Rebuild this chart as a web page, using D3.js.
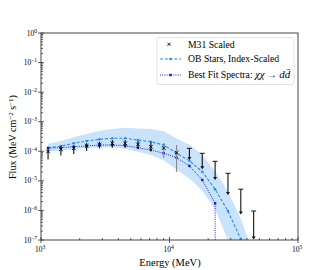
<!DOCTYPE html>
<html>
<head>
<meta charset="utf-8">
<script src="https://cdn.jsdelivr.net/npm/d3@7"></script>
<style>
  body { margin: 0; background: #fff; }
  svg text { font-family: "Liberation Serif", "DejaVu Serif", serif; fill: #000; }
</style>
</head>
<body>
<script>
// energies of the bins (MeV)
var energy = [1135, 1429, 1799, 2265, 2851, 3589, 4518, 5688, 7161, 9015,
  11349, 14288, 17987, 22645, 28508, 35889, 45182];

// OB stars, index scaled, with its band
var obFlux = [1.32e-4, 1.51e-4, 1.86e-4, 2.23e-4, 2.54e-4, 2.75e-4, 2.75e-4, 2.40e-4,
  2.11e-4, 1.63e-4, 8.6e-5, 4.8e-5, 2.04e-5, 5.2e-6, 9.5e-7, 1.07e-7];
var bandHigh = [1.79e-4, 2.22e-4, 2.99e-4, 3.89e-4, 4.83e-4, 5.69e-4, 6.19e-4, 5.90e-4,
  5.64e-4, 4.74e-4, 2.71e-4, 1.66e-4, 7.7e-5, 2.12e-5, 4.3e-6, 5.2e-7, 3.2e-8];
var bandLow = [9.8e-5, 1.03e-4, 1.16e-4, 1.28e-4, 1.34e-4, 1.33e-4, 1.22e-4, 9.6e-5,
  7.5e-5, 5.0e-5, 2.4e-5, 1.2e-5, 4.6e-6, 1.1e-6, 1.0e-7, 2.2e-8, 1e-9];

// best fit dark matter spectrum, drops to zero at the cutoff
var dmFlux = [1.29e-4, 1.32e-4, 1.43e-4, 1.51e-4, 1.63e-4, 1.63e-4, 1.55e-4, 1.32e-4,
  1.10e-4, 8.6e-5, 6.1e-5, 3.2e-5, 1.07e-5, 1.74e-6];
var dmCutoff = 22700;

// M31 scaled points (first 11 bins) and upper limits (last 6 bins)
var m31Flux = [9.84e-5, 1.17e-4, 1.26e-4, 1.51e-4, 1.67e-4, 1.86e-4, 1.86e-4, 1.72e-4,
  1.43e-4, 1.29e-4, 8.95e-5];
var m31Low = [5.27e-5, 7.2e-5, 8.1e-5, 1.02e-4, 1.24e-4, 1.32e-4, 1.32e-4, 1.24e-4,
  1.02e-4, 5.93e-5, 2.0e-5];
var m31High = [1.34e-4, 1.45e-4, 1.57e-4, 1.91e-4, 2.11e-4, 2.41e-4, 2.41e-4, 2.23e-4,
  2.01e-4, 1.91e-4, 1.63e-4];
var ulTop = [1.26e-4, 8.55e-5, 4.58e-5, 1.80e-5, 5.22e-6, 9.55e-7];
var ulTip = [5.07e-5, 2.46e-5, 1.07e-5, 3.32e-6, 7.28e-7, 1.04e-7];

var xTicks = [3, 4, 5];
var yTicks = [0, -1, -2, -3, -4, -5, -6, -7];

var W = 332, H = 270;
var L = 41, R = 298, T = 33, B = 240;

var svg = d3.select('body').append('svg').attr('width', W).attr('height', H)
  .attr('font-family', '"Liberation Serif", "DejaVu Serif", serif');

var x = d3.scaleLog().domain([1e3, 1e5]).range([L, R]);
var y = d3.scaleLog().domain([1e-7, 1]).range([B, T]);

svg.append('clipPath').attr('id', 'clip')
  .append('rect').attr('x', L).attr('y', T).attr('width', R - L).attr('height', B - T);

var plot = svg.append('g').attr('clip-path', 'url(#clip)');

function yc(v) { return y(Math.max(v, 1e-9)); }

// band
var band = energy.map(function (e, i) { return { e: e, lo: bandLow[i], hi: bandHigh[i] }; });
plot.append('path')
  .datum(band)
  .attr('fill', '#c9e3fb')
  .attr('d', d3.area()
    .x(function (d) { return x(d.e); })
    .y0(function (d) { return yc(d.lo); })
    .y1(function (d) { return yc(d.hi); }));

// OB line
var ob = obFlux.map(function (v, i) { return { e: energy[i], f: v }; });
plot.append('path')
  .datum(ob)
  .attr('fill', 'none')
  .attr('stroke', '#2b8cf0')
  .attr('stroke-width', 1.1)
  .attr('stroke-dasharray', '3,1.8')
  .attr('d', d3.line().x(function (d) { return x(d.e); }).y(function (d) { return yc(d.f); }));
plot.selectAll('.obdot').data(ob).enter().append('circle')
  .attr('cx', function (d) { return x(d.e); })
  .attr('cy', function (d) { return yc(d.f); })
  .attr('r', 1.3)
  .attr('fill', '#2b8cf0');

// DM line
var dm = dmFlux.map(function (v, i) { return { e: energy[i], f: v }; });
var dmLine = dm.concat([{ e: dmCutoff, f: 1e-9 }]);
plot.append('path')
  .datum(dmLine)
  .attr('fill', 'none')
  .attr('stroke', '#2323d8')
  .attr('stroke-width', 1)
  .attr('stroke-dasharray', '1,1.2')
  .attr('d', d3.line().x(function (d) { return x(d.e); }).y(function (d) { return yc(d.f); }));
plot.selectAll('.dmdot').data(dm).enter().append('rect')
  .attr('x', function (d) { return x(d.e) - 1.2; })
  .attr('y', function (d) { return yc(d.f) - 1.2; })
  .attr('width', 2.4).attr('height', 2.4)
  .attr('fill', '#1a1ac8');

// M31 error bars and markers
var pts = m31Flux.map(function (v, i) { return { e: energy[i], f: v, lo: m31Low[i], hi: m31High[i], i: i }; });
plot.selectAll('.err').data(pts).enter().append('line')
  .attr('x1', function (d) { return x(d.e); })
  .attr('x2', function (d) { return x(d.e); })
  .attr('y1', function (d) { return y(d.lo); })
  .attr('y2', function (d) { return y(d.hi); })
  .attr('stroke', function (d) { return d.i >= 9 ? '#888' : '#111'; })
  .attr('stroke-width', 1.1);
plot.selectAll('.xm').data(pts).enter().append('path')
  .attr('d', function (d) {
    var cx = x(d.e), cy = y(d.f), s = 1.8;
    return 'M' + (cx - s) + ',' + (cy - s) + 'L' + (cx + s) + ',' + (cy + s) +
      'M' + (cx - s) + ',' + (cy + s) + 'L' + (cx + s) + ',' + (cy - s);
  })
  .attr('stroke', '#000').attr('stroke-width', 1);

// upper limits
var uls = ulTop.map(function (v, i) { return { e: energy[i + 11], top: v, tip: ulTip[i] }; });
var ul = plot.selectAll('.ul').data(uls).enter().append('g');
ul.append('line')
  .attr('x1', function (d) { return x(d.e); })
  .attr('x2', function (d) { return x(d.e); })
  .attr('y1', function (d) { return y(d.top); })
  .attr('y2', function (d) { return y(d.tip) - 2; })
  .attr('stroke', '#111').attr('stroke-width', 1.1);
ul.append('line')
  .attr('x1', function (d) { return x(d.e) - 2.5; })
  .attr('x2', function (d) { return x(d.e) + 2.5; })
  .attr('y1', function (d) { return y(d.top); })
  .attr('y2', function (d) { return y(d.top); })
  .attr('stroke', '#111').attr('stroke-width', 1);
ul.append('path')
  .attr('d', function (d) {
    var cx = x(d.e), ty = y(d.tip);
    return 'M' + (cx - 2) + ',' + (ty - 3) + 'L' + (cx + 2) + ',' + (ty - 3) + 'L' + cx + ',' + ty + 'Z';
  })
  .attr('fill', '#111');

// frame
svg.append('rect').attr('x', L).attr('y', T).attr('width', R - L).attr('height', B - T)
  .attr('fill', 'none').attr('stroke', '#333').attr('stroke-width', 0.9);

// ticks
var xMinor = [], yMinor = [];
xTicks.slice(0, -1).forEach(function (p) {
  for (var m = 2; m < 10; m++) xMinor.push(m * Math.pow(10, p));
});
yTicks.slice(0, -1).forEach(function (p) {
  for (var m = 2; m < 10; m++) yMinor.push(m * Math.pow(10, p - 1));
});
var tk = svg.append('g').attr('stroke', '#333').attr('stroke-width', 0.8);
xTicks.forEach(function (p) {
  var px = x(Math.pow(10, p));
  tk.append('line').attr('x1', px).attr('x2', px).attr('y1', B - 3).attr('y2', B + 3);
});
xMinor.forEach(function (v) {
  var px = x(v);
  tk.append('line').attr('x1', px).attr('x2', px).attr('y1', B - 2).attr('y2', B);
});
yTicks.forEach(function (p) {
  var py = y(Math.pow(10, p));
  tk.append('line').attr('x1', L - 3).attr('x2', L + 3).attr('y1', py).attr('y2', py);
});
yMinor.forEach(function (v) {
  var py = y(v);
  tk.append('line').attr('x1', L).attr('x2', L + 2).attr('y1', py).attr('y2', py);
});

// tick labels
xTicks.forEach(function (p) {
  var t = svg.append('text').attr('x', x(Math.pow(10, p)) - 1).attr('y', 252)
    .attr('text-anchor', 'middle').attr('font-size', 7.5);
  t.append('tspan').text('10');
  t.append('tspan').attr('dy', -3).attr('font-size', 5.5).text(p);
});
yTicks.forEach(function (p) {
  var t = svg.append('text').attr('x', 37).attr('y', y(Math.pow(10, p)) + 2.5)
    .attr('text-anchor', 'end').attr('font-size', 7.5);
  t.append('tspan').text('10');
  t.append('tspan').attr('dy', -3).attr('font-size', 5.5).text(p === 0 ? '0' : '\u2212' + (-p));
});

// axis titles
svg.append('text').attr('x', 170).attr('y', 266).attr('text-anchor', 'middle')
  .attr('font-size', 10.5).text('Energy (MeV)');
var yt = svg.append('text').attr('transform', 'translate(16,137) rotate(-90)')
  .attr('text-anchor', 'middle').attr('font-size', 10);
yt.append('tspan').text('Flux (MeV cm');
yt.append('tspan').attr('dy', -3.5).attr('font-size', 7).text('\u22122');
yt.append('tspan').attr('dy', 3.5).text(' s');
yt.append('tspan').attr('dy', -3.5).attr('font-size', 7).text('\u22121');
yt.append('tspan').attr('dy', 3.5).text(')');

// legend
var lg = svg.append('g');
lg.append('rect').attr('x', 157).attr('y', 37.5).attr('width', 137).attr('height', 47)
  .attr('rx', 2).attr('fill', 'rgba(255,255,255,0.85)').attr('stroke', '#ddd').attr('stroke-width', 0.8);
var lx0 = 160, lx1 = 181, tx = 188;
lg.append('path')
  .attr('d', 'M167.5,42.8L170.5,45.8M167.5,45.8L170.5,42.8')
  .attr('stroke', '#000').attr('stroke-width', 0.9);
lg.append('text').attr('x', tx).attr('y', 47.7).attr('font-size', 9.7).text('M31 Scaled');
lg.append('line').attr('x1', lx0).attr('x2', lx1).attr('y1', 59).attr('y2', 59)
  .attr('stroke', '#2b8cf0').attr('stroke-width', 1.1).attr('stroke-dasharray', '3,1.8');
lg.append('circle').attr('cx', 170.5).attr('cy', 59).attr('r', 1.3).attr('fill', '#2b8cf0');
lg.append('text').attr('x', tx).attr('y', 62.3).attr('font-size', 9.7).text('OB Stars, Index-Scaled');
lg.append('line').attr('x1', lx0).attr('x2', lx1).attr('y1', 75).attr('y2', 75)
  .attr('stroke', '#2323d8').attr('stroke-width', 1).attr('stroke-dasharray', '1,1.2');
lg.append('rect').attr('x', 169.3).attr('y', 73.8).attr('width', 2.4).attr('height', 2.4).attr('fill', '#1a1ac8');
var t3 = lg.append('text').attr('x', tx).attr('y', 78.3).attr('font-size', 9.7);
t3.append('tspan').text('Best Fit Spectra: ');
t3.append('tspan').attr('font-style', 'italic').attr('font-size', 11).text('\u03c7\u03c7');
t3.append('tspan').text(' \u2192 ');
t3.append('tspan').attr('font-style', 'italic').attr('font-size', 11).text('d');
t3.append('tspan').attr('font-style', 'italic').attr('font-size', 11).text('d\u0304');
</script>
</body>
</html>
